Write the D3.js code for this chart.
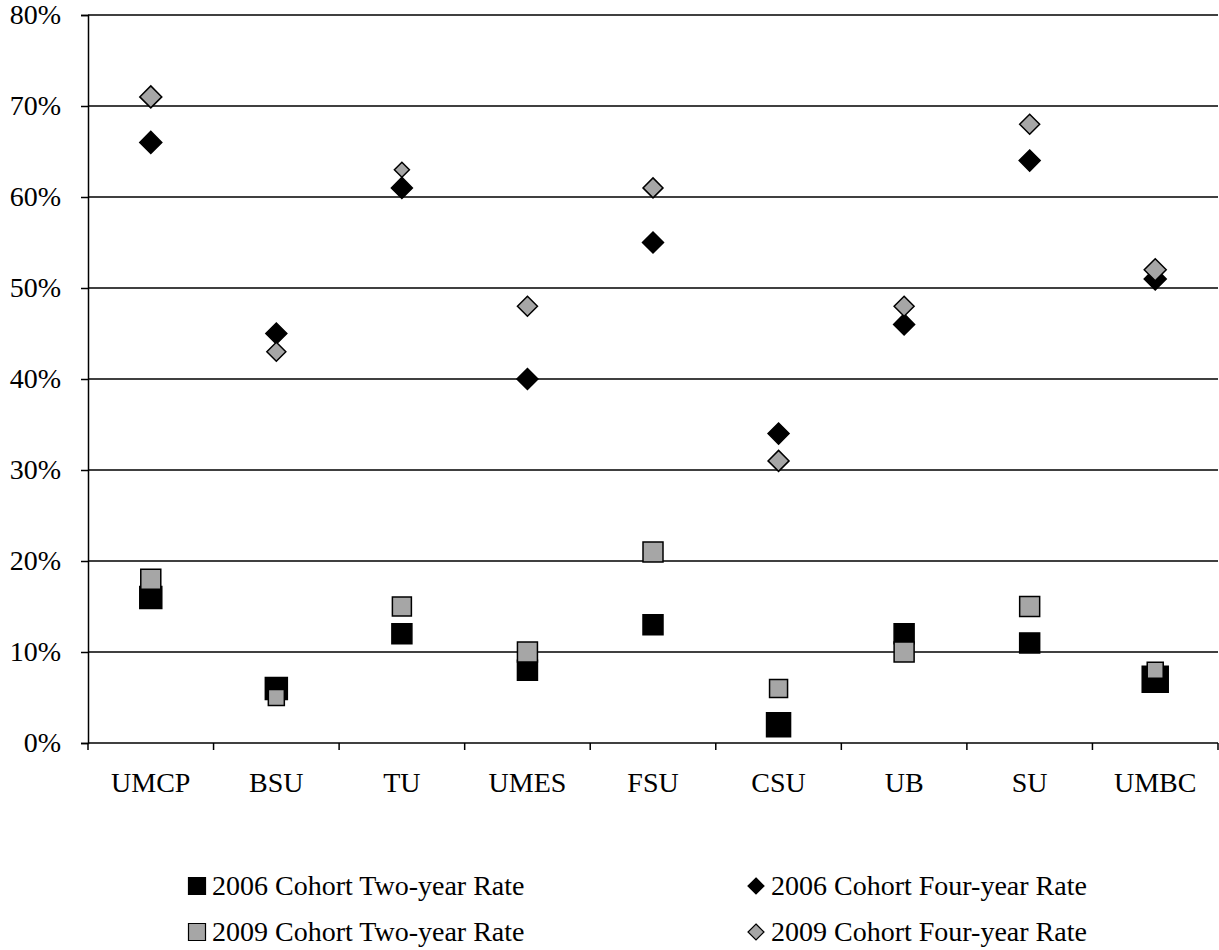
<!DOCTYPE html>
<html>
<head>
<meta charset="utf-8">
<script src="https://cdn.jsdelivr.net/npm/d3@7"></script>
<style>
  body { margin: 0; background: #fff; }
  text { font-family: "Liberation Serif", "Times New Roman", serif; fill: #000; }
</style>
</head>
<body>
<div id="chart"></div>
<script>
// data
var schools = ["UMCP", "BSU", "TU", "UMES", "FSU", "CSU", "UB", "SU", "UMBC"];
var twoYear2006 = [16, 6, 12, 8, 13, 2, 12, 11, 7];
var fourYear2006 = [66, 45, 61, 40, 55, 34, 46, 64, 51];
var twoYear2009 = [18, 5, 15, 10, 21, 6, 10, 15, 8];
var fourYear2009 = [71, 43, 63, 48, 61, 31, 48, 68, 52];
var yTicks = [0, 10, 20, 30, 40, 50, 60, 70, 80];

// marker sizes vary a bit per point in the original
var sizeTwo2006 = [22, 22, 20, 20, 20, 24, 20, 20, 26];
var sizeTwo2009 = [20, 16, 19, 20, 20, 18, 20, 20, 16];
var sizeFour2006 = [22, 21, 21, 21, 21, 21, 21, 21, 22];
var sizeFour2009 = [22, 19, 15, 20, 20, 21, 20, 20, 22];

var series = [
  { name: "2006 Cohort Two-year Rate", values: twoYear2006, sizes: sizeTwo2006, shape: "square", fill: "#000" },
  { name: "2006 Cohort Four-year Rate", values: fourYear2006, sizes: sizeFour2006, shape: "diamond", fill: "#000" },
  { name: "2009 Cohort Two-year Rate", values: twoYear2009, sizes: sizeTwo2009, shape: "square", fill: "#a6a6a6" },
  { name: "2009 Cohort Four-year Rate", values: fourYear2009, sizes: sizeFour2009, shape: "diamond", fill: "#a6a6a6" }
];

var svgWidth = 1219, svgHeight = 950;
var margin = { top: 15, left: 88, right: 1, bottom: 207 };
var width = svgWidth - margin.left - margin.right;
var height = svgHeight - margin.top - margin.bottom;

var svg = d3.select("#chart").append("svg")
  .attr("width", svgWidth)
  .attr("height", svgHeight);

var chartGroup = svg.append("g")
  .attr("transform", `translate(${margin.left}, ${margin.top})`);

var xScale = d3.scaleBand().domain(schools).range([0, width]);
var yScale = d3.scaleLinear().domain([0, 80]).range([height, 0]);

// gridlines
chartGroup.selectAll(".grid")
  .data(yTicks.filter(d => d > 0))
  .enter()
  .append("line")
  .attr("x1", 0).attr("x2", width)
  .attr("y1", d => yScale(d)).attr("y2", d => yScale(d))
  .attr("stroke", "#000").attr("stroke-width", 1.5);

// y axis
var yAxis = d3.axisLeft(yScale).tickValues(yTicks).tickSize(7).tickPadding(20)
  .tickFormat(d => d + "%");
var yG = chartGroup.append("g").call(yAxis);
yG.select(".domain").attr("stroke-width", 1.5);
yG.selectAll(".tick line").attr("stroke-width", 1.5);
yG.selectAll("text").style("font-size", "28px").attr("font-family", null);

// x axis: ticks between categories
var xG = chartGroup.append("g").attr("transform", `translate(0, ${height})`);
xG.append("line").attr("x1", 0).attr("x2", width)
  .attr("stroke", "#000").attr("stroke-width", 1.5);
xG.selectAll(".xtick")
  .data(d3.range(schools.length + 1))
  .enter()
  .append("line")
  .attr("x1", i => i * xScale.step()).attr("x2", i => i * xScale.step())
  .attr("y1", 0).attr("y2", 7)
  .attr("stroke", "#000").attr("stroke-width", 1.5);
xG.selectAll(".xlabel")
  .data(schools)
  .enter()
  .append("text")
  .attr("x", d => xScale(d) + xScale.bandwidth() / 2)
  .attr("y", 49)
  .attr("text-anchor", "middle")
  .style("font-size", "28px")
  .text(d => d);

function markerPath(shape, s) {
  var h = s / 2;
  if (shape === "square") return `M${-h},${-h}H${h}V${h}H${-h}Z`;
  return `M0,${-h}L${h},0L0,${h}L${-h},0Z`;
}

// markers
series.forEach(function(s) {
  chartGroup.append("g").selectAll("path")
    .data(s.values)
    .enter()
    .append("path")
    .attr("transform", (d, i) => `translate(${xScale(schools[i]) + xScale.bandwidth() / 2}, ${yScale(d)})`)
    .attr("d", (d, i) => markerPath(s.shape, s.sizes[i]))
    .attr("fill", s.fill)
    .attr("stroke", "#000")
    .attr("stroke-width", 1.5);
});

// legend
var legendPos = [[197, 886], [756, 886], [197, 932], [756, 932]];
series.forEach(function(s, i) {
  var g = svg.append("g").attr("transform", `translate(${legendPos[i][0]}, ${legendPos[i][1]})`);
  g.append("path")
    .attr("d", markerPath(s.shape, s.shape === "square" ? 17 : 16))
    .attr("fill", s.fill)
    .attr("stroke", "#000")
    .attr("stroke-width", 1.2);
  g.append("text")
    .attr("x", 15)
    .attr("y", 9)
    .style("font-size", "28px")
    .text(s.name);
});
</script>
</body>
</html>
